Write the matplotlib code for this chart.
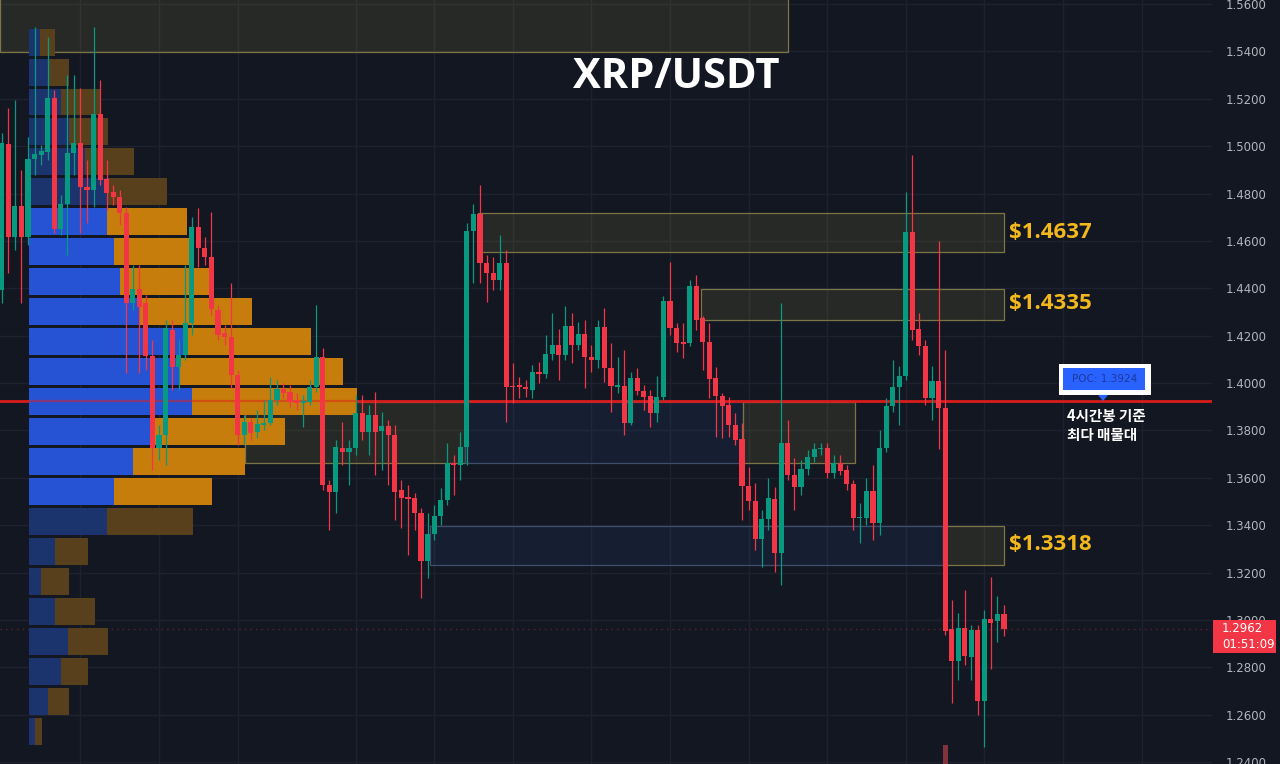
import numpy as np
import matplotlib
matplotlib.use("Agg")
import matplotlib.pyplot as plt
from matplotlib.patches import Rectangle, Polygon
from matplotlib.transforms import blended_transform_factory

BG = "#131722"
GRID = "#1e2230"
UP, DOWN = "#089981", "#f23645"
GOLD = "#f2b81c"

# XRP/USDT 4시간봉 OHLC (왼쪽 -> 오른쪽)
opens = [1.4393, 1.5009, 1.4617, 1.4747, 1.4617, 1.4946, 1.4963, 1.4975, 1.5203, 1.4650,
         1.4756, 1.4971, 1.5013, 1.4828, 1.4815, 1.5136, 1.4861, 1.4806, 1.4785, 1.4718,
         1.4338, 1.4397, 1.4338, 1.4114, 1.3726, 1.3781, 1.4224, 1.4068, 1.4118, 1.4253,
         1.4659, 1.4570, 1.4532, 1.4308, 1.4211, 1.4194, 1.4034, 1.3781, 1.3835, 1.3793,
         1.3823, 1.3831, 1.3928, 1.3975, 1.3962, 1.3928, 1.3916, 1.3920, 1.3983, 1.4110,
         1.3570, 1.3540, 1.3726, 1.3709, 1.3726, 1.3873, 1.3793, 1.3865, 1.3797, 1.3819,
         1.3781, 1.3548, 1.3519, 1.3515, 1.3451, 1.3249, 1.3363, 1.3439, 1.3506, 1.3662,
         1.3654, 1.3730, 1.4642, 1.4714, 1.4507, 1.4465, 1.4435, 1.4507, 1.3987, 1.3992,
         1.3983, 1.3971, 1.4047, 1.4038, 1.4123, 1.4161, 1.4118, 1.4241, 1.4161, 1.4207,
         1.4110, 1.4097, 1.4236, 1.4063, 1.3983, 1.3987, 1.3831, 1.4021, 1.3966, 1.3945,
         1.3873, 1.3941, 1.4346, 1.4232, 1.4173, 1.4169, 1.4410, 1.4275, 1.4173, 1.4021,
         1.3945, 1.3907, 1.3823, 1.3764, 1.3565, 1.3502, 1.3342, 1.3426, 1.3510, 1.3282,
         1.3747, 1.3612, 1.3561, 1.3637, 1.3688, 1.3721, 1.3726, 1.3620, 1.3662, 1.3633,
         1.3574, 1.3430, 1.3430, 1.3544, 1.3409, 1.3726, 1.3903, 1.3983, 1.4030, 1.4638,
         1.4228, 1.4156, 1.3937, 1.4009, 1.3895, 1.2962, 1.2827, 1.2966, 1.2843, 1.2957,
         1.2658, 1.3004, 1.2995, 1.3025]
highs = [1.5056, 1.5161, 1.5195, 1.4899, 1.5039, 1.5503, 1.5005, 1.5461, 1.5237, 1.4794,
         1.5300, 1.5300, 1.5246, 1.4942, 1.5503, 1.5279, 1.4942, 1.4836, 1.4815, 1.4743,
         1.4498, 1.4498, 1.4372, 1.4182, 1.3823, 1.4266, 1.4266, 1.4182, 1.4498, 1.4701,
         1.4739, 1.4617, 1.4722, 1.4329, 1.4245, 1.4422, 1.4055, 1.3865, 1.3852, 1.3886,
         1.3928, 1.4025, 1.4013, 1.4000, 1.3992, 1.3958, 1.3950, 1.4013, 1.4329, 1.4148,
         1.3591, 1.3760, 1.3835, 1.3760, 1.3950, 1.3950, 1.3907, 1.3962, 1.3878, 1.3844,
         1.3823, 1.3591, 1.3570, 1.3536, 1.3472, 1.3451, 1.3485, 1.3557, 1.3747, 1.3696,
         1.3793, 1.4676, 1.4756, 1.4836, 1.4540, 1.4532, 1.4625, 1.4562, 1.4085, 1.4025,
         1.4013, 1.4076, 1.4089, 1.4203, 1.4296, 1.4228, 1.4325, 1.4296, 1.4258, 1.4266,
         1.4161, 1.4266, 1.4317, 1.4169, 1.4110, 1.4139, 1.4047, 1.4063, 1.3992, 1.3971,
         1.4030, 1.4367, 1.4511, 1.4253, 1.4253, 1.4435, 1.4456, 1.4283, 1.4253, 1.4068,
         1.3958, 1.3941, 1.3873, 1.3831, 1.3646, 1.3578, 1.3464, 1.3599, 1.3561, 1.4338,
         1.3844, 1.3683, 1.3675, 1.3717, 1.3747, 1.3747, 1.3747, 1.3696, 1.3696, 1.3654,
         1.3591, 1.3494, 1.3599, 1.3654, 1.3802, 1.3937, 1.4097, 1.4072, 1.4806, 1.4963,
         1.4296, 1.4182, 1.4072, 1.4600, 1.4139, 1.3084, 1.3029, 1.3126, 1.2979, 1.2979,
         1.3042, 1.3181, 1.3101, 1.3063]
lows = [1.4338, 1.4465, 1.4562, 1.4338, 1.4583, 1.4878, 1.4920, 1.4942, 1.4633, 1.4625,
        1.4540, 1.4878, 1.4633, 1.4676, 1.4743, 1.4836, 1.4730, 1.4752, 1.4667, 1.4042,
        1.4308, 1.4042, 1.4055, 1.3633, 1.3675, 1.3654, 1.3971, 1.3971, 1.4097, 1.4203,
        1.4490, 1.4498, 1.4287, 1.4182, 1.4161, 1.3979, 1.3738, 1.3738, 1.3760, 1.3768,
        1.3802, 1.3823, 1.3907, 1.3937, 1.3899, 1.3886, 1.3814, 1.3907, 1.3962, 1.3548,
        1.3380, 1.3451, 1.3654, 1.3570, 1.3696, 1.3760, 1.3696, 1.3612, 1.3633, 1.3570,
        1.3422, 1.3388, 1.3274, 1.3380, 1.3093, 1.3177, 1.3337, 1.3401, 1.3485, 1.3527,
        1.3591, 1.3654, 1.4422, 1.4422, 1.4342, 1.4393, 1.4393, 1.3835, 1.3916, 1.3937,
        1.3941, 1.3937, 1.4000, 1.4021, 1.4097, 1.4013, 1.4097, 1.4085, 1.4139, 1.3979,
        1.4047, 1.4063, 1.4004, 1.3878, 1.3958, 1.3781, 1.3823, 1.3950, 1.3886, 1.3814,
        1.3835, 1.3928, 1.4203, 1.4131, 1.4106, 1.4156, 1.4224, 1.4055, 1.3937, 1.3772,
        1.3768, 1.3772, 1.3738, 1.3422, 1.3464, 1.3295, 1.3223, 1.3380, 1.3202, 1.3147,
        1.3591, 1.3464, 1.3527, 1.3612, 1.3667, 1.3696, 1.3599, 1.3599, 1.3612, 1.3548,
        1.3380, 1.3325, 1.3401, 1.3337, 1.3358, 1.3709, 1.3878, 1.3823, 1.4013, 1.4182,
        1.4118, 1.3907, 1.3844, 1.3721, 1.2936, 1.2649, 1.2746, 1.2810, 1.2746, 1.2599,
        1.2464, 1.2793, 1.2907, 1.2932]
closes = [1.5013, 1.4617, 1.4747, 1.4617, 1.4946, 1.4967, 1.4980, 1.5203, 1.4650, 1.4756,
          1.4971, 1.5013, 1.4828, 1.4815, 1.5136, 1.4857, 1.4802, 1.4785, 1.4718, 1.4338,
          1.4397, 1.4321, 1.4114, 1.3726, 1.3781, 1.4232, 1.4068, 1.4118, 1.4253, 1.4659,
          1.4570, 1.4532, 1.4313, 1.4203, 1.4194, 1.4034, 1.3781, 1.3835, 1.3789, 1.3827,
          1.3831, 1.3928, 1.3975, 1.3958, 1.3920, 1.3916, 1.3924, 1.3983, 1.4110, 1.3570,
          1.3540, 1.3730, 1.3709, 1.3726, 1.3873, 1.3793, 1.3865, 1.3793, 1.3819, 1.3781,
          1.3540, 1.3515, 1.3510, 1.3451, 1.3249, 1.3363, 1.3439, 1.3506, 1.3662, 1.3654,
          1.3730, 1.4642, 1.4714, 1.4507, 1.4465, 1.4435, 1.4507, 1.3983, 1.3983, 1.3983,
          1.3975, 1.4047, 1.4038, 1.4123, 1.4161, 1.4118, 1.4241, 1.4161, 1.4207, 1.4110,
          1.4097, 1.4236, 1.4063, 1.3987, 1.3992, 1.3831, 1.4021, 1.3966, 1.3941, 1.3873,
          1.3941, 1.4346, 1.4232, 1.4169, 1.4165, 1.4410, 1.4266, 1.4173, 1.4017, 1.3945,
          1.3903, 1.3823, 1.3760, 1.3565, 1.3502, 1.3342, 1.3426, 1.3515, 1.3282, 1.3747,
          1.3612, 1.3561, 1.3637, 1.3688, 1.3721, 1.3726, 1.3620, 1.3662, 1.3629, 1.3574,
          1.3430, 1.3434, 1.3544, 1.3409, 1.3726, 1.3903, 1.3983, 1.4030, 1.4638, 1.4224,
          1.4156, 1.3937, 1.4009, 1.3895, 1.2953, 1.2827, 1.2966, 1.2848, 1.2957, 1.2658,
          1.3004, 1.2987, 1.3025, 1.2962]

# 매물대 (volume profile), 아래 -> 위 24구간, 매수/매도 상대 거래량
buy_vol = [6, 19, 32, 39, 26, 12, 26, 78, 85, 104, 126, 163,
           151, 158, 111, 91, 85, 78, 78, 56, 40, 32, 20, 11]
sell_vol = [7, 21, 27, 40, 40, 28, 33, 86, 98, 112, 130, 165,
            163, 124, 112, 90, 76, 80, 60, 49, 39, 40, 20, 15]
value_area = (8, 17)          # 밝게 표시되는 구간 (value area)

poc = 1.3924
levels = [1.4637, 1.4335, 1.3318]
# 박스: (시작 봉, 끝 봉, 하단, 상단, 종류)
zones = [(-0.3, 120.0, 1.5397, 1.5700, "olive"),
         (72.7, 153.0, 1.4553, 1.4718, "olive"),
         (106.7, 153.0, 1.4266, 1.4397, "olive"),
         (37.1, 70.7, 1.3662, 1.3918, "olive"),
         (70.7, 113.2, 1.3662, 1.3918, "blue"),
         (113.2, 130.3, 1.3662, 1.3918, "olive"),
         (65.4, 143.7, 1.3232, 1.3397, "blue"),
         (143.7, 153.0, 1.3232, 1.3397, "olive")]
spike_idx, spike_top = 144, 1.2472    # 하단 거래량 막대

vgrid = [12, 24, 36, 54, 66, 78, 90, 102, 114, 126, 138, 150, 162, 174]

fig = plt.figure(figsize=(12.8, 7.64), dpi=100, facecolor=BG)
ax = fig.add_axes([0, 0, 1212 / 1280, 1])
ax.set_facecolor(BG)
ax.set_xlim(-0.28, 184.75)
ax.set_ylim(1.2392, 1.5617)
for s in ax.spines.values():
    s.set_visible(False)

ax.set_axisbelow(True)
ax.yaxis.tick_right()
ax.set_yticks(np.round(np.arange(1.24, 1.5601, 0.02), 2))
ax.yaxis.set_major_formatter(lambda v, p: f"{v:.4f}")
ax.tick_params(axis="y", length=0, pad=10, labelsize=8.5, labelcolor="#b2b5be")
ax.tick_params(axis="x", bottom=False, labelbottom=False)
ax.grid(axis="y", color=GRID, lw=1)
for g in vgrid:
    ax.axvline(g, color=GRID, lw=1, zorder=0)

# 박스
style = {"olive": ("#b5a642", 0.13, "#7b7444"), "blue": ("#2f5aa8", 0.12, "#3f4e6a")}
for x0, x1, lo, hi, kind in zones:
    fc, a, ec = style[kind]
    ax.add_patch(Rectangle((x0, lo), x1 - x0, hi - lo, fc=fc, alpha=a, lw=0, zorder=1))
    ax.add_patch(Rectangle((x0, lo), x1 - x0, hi - lo, fill=False, ec=ec, lw=0.9, zorder=1.1))

# volume profile
tr = blended_transform_factory(ax.transAxes, ax.transData)
edges = np.linspace(min(lows), max(highs), len(buy_vol) + 1)
rh = edges[1] - edges[0]
px = 1 / 1212
left = 29 * px
for k, (b, s) in enumerate(zip(buy_vol, sell_vol)):
    bright = value_area[0] <= k <= value_area[1]
    cb, cs = ("#2652d4", "#c77d0b") if bright else ("#1c346e", "#58401c")
    y0 = edges[k] + rh * 0.05
    ax.add_patch(Rectangle((left, y0), b * px, rh * 0.9, transform=tr, fc=cb, lw=0, zorder=2))
    ax.add_patch(Rectangle((left + b * px, y0), s * px, rh * 0.9, transform=tr, fc=cs, lw=0, zorder=2))

# POC 선
ax.axhline(poc, color="#d91c1c", lw=2, zorder=1.8)
prof_end = left + (buy_vol[11] + sell_vol[11]) * px
ax.plot([left, prof_end], [poc, poc], transform=tr, color="#e0201c", alpha=0.5, lw=1.6, zorder=2.5)

# 현재가 점선
ax.axhline(closes[-1], color=DOWN, alpha=0.35, lw=1, ls=(0, (1, 3)), zorder=1)

# 캔들
o, h, l, c = map(np.array, (opens, highs, lows, closes))
x = np.arange(len(o))
col = np.where(c >= o, UP, DOWN)
ax.vlines(x, l, h, colors=col, lw=0.9, zorder=4)
ax.bar(x, np.maximum(np.abs(c - o), 0.0005), bottom=np.minimum(o, c), width=0.78,
       color=col, lw=0, zorder=5)
ax.bar(spike_idx, spike_top - 1.2392, bottom=1.2392, width=0.78, color="#82323a", lw=0, zorder=3)

# 텍스트
ax.text(0.558, 0.899, "XRP/USDT", transform=ax.transAxes, ha="center", va="center",
        fontsize=30, fontweight="bold", color="white", family="Open Sans")
for lv in levels:
    ax.text(153.8, lv, f"${lv:.4f}", ha="left", va="center", fontsize=16,
            fontweight="bold", color=GOLD, family="Open Sans", zorder=6)

# POC 라벨
ax.add_patch(Rectangle((0.8738, 1.3950), 0.0759, 0.0130, transform=tr, fc="white", lw=0, zorder=7))
ax.add_patch(Rectangle((0.8771, 1.3971), 0.0676, 0.0092, transform=tr, fc="#2962ff", lw=0, zorder=8))
ax.add_patch(Polygon([(0.9059, 1.3950), (0.9142, 1.3950), (0.9101, poc)], closed=True,
                     transform=tr, fc="#2962ff", lw=0, zorder=8))
ax.text(0.911, 1.4017, f"POC: {poc:.4f}", transform=tr, ha="center", va="center",
        fontsize=7.5, color="#1b3a9a", zorder=9)
ax.text(0.8804, 1.3893, "4시간봉 기준\n최다 매물대", transform=tr, ha="left", va="top",
        fontsize=10.5, fontweight="bold", color="white", linespacing=1.2,
        family=["Noto Sans CJK KR", "DejaVu Sans"], zorder=9)

# 현재가 태그
last = closes[-1]
ax.add_patch(Rectangle((1.0008, last - 0.0101), 0.052, 0.0139, transform=tr, fc=DOWN,
                       lw=0, zorder=10, clip_on=False))
ax.text(1.0083, last, f"{last:.4f}", transform=tr, ha="left", va="center", fontsize=8.5,
        color="white", zorder=11, clip_on=False)
ax.text(1.0083, last - 0.0066, "01:51:09", transform=tr, ha="left", va="center",
        fontsize=8.5, color="white", zorder=11, clip_on=False)

fig.savefig("out.png", dpi=100, facecolor=BG)
